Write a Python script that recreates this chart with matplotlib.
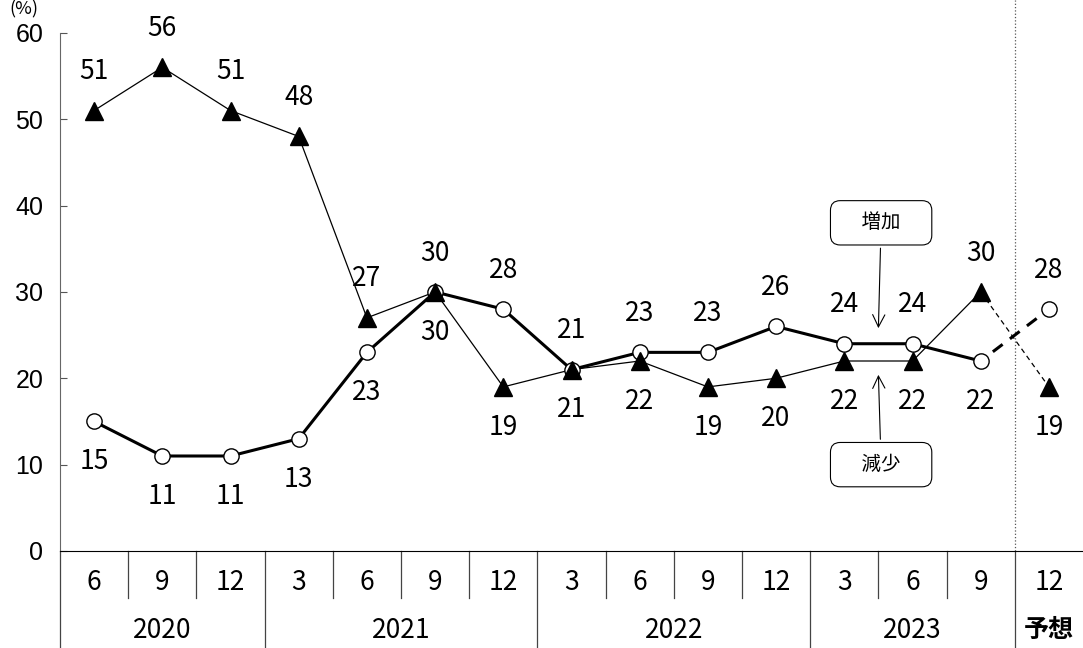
import numpy as np
import matplotlib.pyplot as plt

plt.rcParams['font.family'] = ['Noto Sans CJK JP', 'DejaVu Sans']

# data
months = ['6', '9', '12', '3', '6', '9', '12', '3', '6', '9', '12', '3', '6', '9', '12']
years = ['2020', '2021', '2022', '2023', '予想']
year_spans = [3, 4, 4, 3, 1]
increase = [15, 11, 11, 13, 23, 30, 28, 21, 23, 23, 26, 24, 24, 22, 28]
decrease = [51, 56, 51, 48, 27, 30, 19, 21, 22, 19, 20, 22, 22, 30, 19]

W, H = 1083, 648
fig = plt.figure(figsize=(W / 100, H / 100), dpi=100)
ax = fig.add_axes([60 / W, 97 / H, 1023 / W, 551 / H])

x = np.arange(len(months))
n = len(months) - 1  # last point is the forecast

# actual values
ax.plot(x[:n], increase[:n], color='black', lw=2.2, zorder=3)
ax.plot(x[:n], decrease[:n], color='black', lw=0.9, zorder=3)
# forecast segments
ax.plot(x[n - 1:], increase[n - 1:], color='black', lw=2.2, ls=(2, (4, 3)), zorder=3)
ax.plot(x[n - 1:], decrease[n - 1:], color='black', lw=0.9, ls=(0, (4, 3)), zorder=3)
# markers
ax.plot(x, increase, ls='none', marker='o', ms=11, mfc='white', mec='black', mew=1.0, zorder=4)
ax.plot(x, decrease, ls='none', marker='^', ms=13, mfc='black', mec='black', zorder=5)

# value labels: the higher value above, the lower one below
for i in x:
    a, b = increase[i], decrease[i]
    if a > b:
        up, down = a, b
    else:
        up, down = b, a
    ax.annotate(str(up), (i, up), xytext=(0, 28), textcoords='offset points',
                ha='center', va='center', fontsize=19)
    ax.annotate(str(down), (i, down), xytext=(0, -29), textcoords='offset points',
                ha='center', va='center', fontsize=19)

# callouts
box = dict(boxstyle='round,pad=0.6,rounding_size=0.5', fc='white', ec='black', lw=0.8)
arrow = dict(arrowstyle='->', lw=0.8, color='black', mutation_scale=22, shrinkB=0)
ax.annotate('\u3000増加\u3000', xy=(11.5, 25.8), xytext=(11.54, 38.0), ha='center', va='center',
            fontsize=14, bbox=box, arrowprops=arrow, zorder=6)
ax.annotate('\u3000減少\u3000', xy=(11.5, 20.4), xytext=(11.54, 10.0), ha='center', va='center',
            fontsize=14, bbox=box, arrowprops=arrow, zorder=6)

# axes
ax.set_xlim(-0.5, len(months) - 0.5)
ax.set_ylim(0, 63.8)
ax.set_yticks([0, 10, 20, 30, 40, 50, 60])
ax.tick_params(axis='y', direction='in', length=5, pad=12, labelsize=18, color='#555555',
               labelfontfamily='Liberation Sans')
ax.set_xticks([])
for s in ['top', 'right']:
    ax.spines[s].set_visible(False)
ax.spines['left'].set_bounds(0, 60)
ax.spines['left'].set_color('#666666')
ax.spines['bottom'].set_color('black')

# forecast divider
ax.axvline(n - 0.5, color='#555555', lw=0.9, ls=':', zorder=1)

# category table under the axis
tr = ax.get_xaxis_transform()
month_bottom = -47 / 551
year_bottom = -97 / 551
for i, m in enumerate(months):
    ax.text(i, -32 / 551, m, transform=tr, ha='center', va='center', fontsize=19)
edges = np.cumsum([0] + year_spans) - 0.5
for k, yr in enumerate(years):
    mid = (edges[k] + edges[k + 1]) / 2
    if yr == '予想':
        ax.text(mid, -79 / 551, yr, transform=tr, ha='center', va='center', fontsize=18,
                fontweight='bold')
    else:
        ax.text(mid, -79 / 551, yr, transform=tr, ha='center', va='center', fontsize=19)
for e in np.arange(len(months) + 1) - 0.5:
    if e in edges:
        if e < len(months) - 0.5:
            ax.plot([e, e], [0, year_bottom], transform=tr, color='#444444', lw=0.9, clip_on=False)
    else:
        ax.plot([e, e], [0, month_bottom], transform=tr, color='#444444', lw=0.9, clip_on=False)

fig.text(24 / W, 1 - 9 / H, '(%)', ha='center', va='center', fontsize=13)

fig.savefig('out.png', dpi=100)
